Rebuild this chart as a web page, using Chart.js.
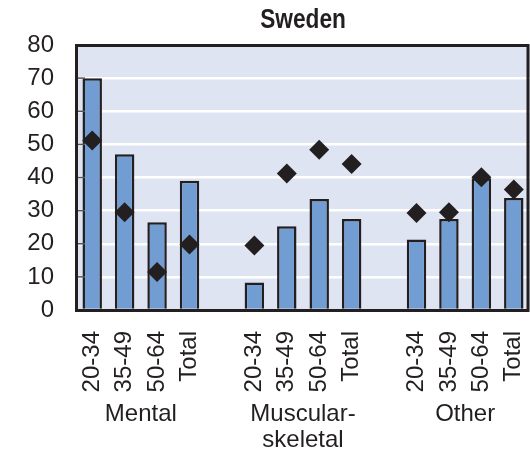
<!DOCTYPE html>
<html>
<head>
<meta charset="utf-8">
<script src="https://cdn.jsdelivr.net/npm/chart.js@4/dist/chart.umd.min.js"></script>
<style>
  html, body { margin: 0; padding: 0; background: #ffffff; }
  #wrap { width: 530px; height: 452px; position: relative; }
</style>
</head>
<body>
<div id="wrap"><canvas id="c" width="530" height="452"></canvas></div>
<script>
// ---- data ----
const categories = ['20-34','35-49','50-64','Total','', '20-34','35-49','50-64','Total','', '20-34','35-49','50-64','Total'];
const groups = ['Mental', 'Muscular-\nskeletal', 'Other'];
const barValues = [70, 47, 26.5, 39, null, 8.3, 25.3, 33.5, 27.5, null, 21.3, 27.5, 39.8, 33.8];
const diamondValues = [51.2, 29.5, 11.5, 19.8, null, 19.5, 41.2, 48.4, 44.1, null, 29.3, 29.5, 40.1, 36.4];
const yTicks = [0, 10, 20, 30, 40, 50, 60, 70, 80];
const titleText = 'Sweden';

const FONT = "'Liberation Sans', Arial, sans-serif";

const framePlugin = {
  id: 'frame',
  beforeDraw(chart) {
    const a = chart.chartArea, ctx = chart.ctx;
    ctx.save();
    ctx.fillStyle = '#dfe4f2';
    ctx.fillRect(a.left, a.top, a.right - a.left, a.bottom - a.top);
    ctx.restore();
  },
  afterDatasetsDraw(chart) {
    const a = chart.chartArea, ctx = chart.ctx;
    const y = chart.scales.y;
    ctx.save();
    ctx.strokeStyle = '#555555';
    ctx.lineWidth = 1.5;
    yTicks.forEach(v => {
      if (v === 0 || v === 80) return;
      const py = y.getPixelForValue(v);
      ctx.beginPath();
      ctx.moveTo(a.left, py);
      ctx.lineTo(a.left + 9, py);
      ctx.stroke();
    });
    ctx.strokeStyle = '#231f20';
    ctx.lineWidth = 3;
    ctx.strokeRect(a.left + 0.5, a.top + 0.5, a.right - a.left - 2.5, a.bottom - a.top);
    ctx.restore();
  },
  afterDraw(chart) {
    const ctx = chart.ctx, x = chart.scales.x, a = chart.chartArea;
    ctx.save();
    ctx.fillStyle = '#231f20';
    ctx.font = '24px ' + FONT;
    ctx.textAlign = 'center';
    ctx.textBaseline = 'alphabetic';
    const centers = [[0, 3], [5, 8], [10, 13]];
    groups.forEach((g, i) => {
      const cx = (x.getPixelForValue(centers[i][0]) + x.getPixelForValue(centers[i][1])) / 2;
      g.split('\n').forEach((line, j) => {
        ctx.fillText(line, cx, 421 + j * 26);
      });
    });
    // title, condensed bold, centred over the plot area
    ctx.font = 'bold 28px ' + FONT;
    const tx = (a.left + a.right) / 2;
    ctx.translate(tx, 28);
    ctx.scale(0.81, 1);
    ctx.fillText(titleText, 0, 0);
    ctx.restore();
  }
};

new Chart(document.getElementById('c'), {
  data: {
    labels: categories,
    datasets: [
      {
        type: 'line',
        data: diamondValues,
        showLine: false,
        pointStyle: 'rectRot',
        pointRadius: 10,
        pointHoverRadius: 10,
        pointBackgroundColor: '#231f20',
        pointBorderColor: '#231f20',
        pointBorderWidth: 0,
        order: 0
      },
      {
        type: 'bar',
        data: barValues,
        backgroundColor: '#719dd3',
        borderColor: '#231f20',
        borderWidth: 2.5,
        categoryPercentage: 1,
        barPercentage: 0.6,
        order: 1
      }
    ]
  },
  options: {
    responsive: false,
    animation: false,
    events: [],
    layout: { autoPadding: false, padding: { top: 45, right: 0, bottom: 0, left: 0 } },
    plugins: {
      legend: { display: false },
      tooltip: { enabled: false },
      title: { display: false }
    },
    scales: {
      x: {
        type: 'category',
        offset: true,
        grid: { display: false, drawTicks: false },
        border: { display: false },
        ticks: {
          minRotation: 90,
          maxRotation: 90,
          autoSkip: false,
          padding: 21,
          color: '#231f20',
          font: { family: FONT, size: 24 }
        },
        afterFit(s) { s.height = 142; s.paddingLeft = 0; s.paddingRight = 0; }
      },
      y: {
        min: 0,
        max: 80,
        afterBuildTicks(s) { s.ticks = yTicks.map(v => ({ value: v })); },
        grid: {
          color: ctx => (ctx.tick && (ctx.tick.value === 0 || ctx.tick.value === 80)) ? 'rgba(0,0,0,0)' : '#ffffff',
          lineWidth: 2.5,
          drawTicks: false
        },
        border: { display: false },
        ticks: {
          padding: 22,
          color: '#231f20',
          font: { family: FONT, size: 24 }
        },
        afterFit(s) { s.width = 76; s.paddingTop = 0; s.paddingBottom = 0; }
      }
    }
  },
  plugins: [framePlugin]
});
</script>
</body>
</html>
